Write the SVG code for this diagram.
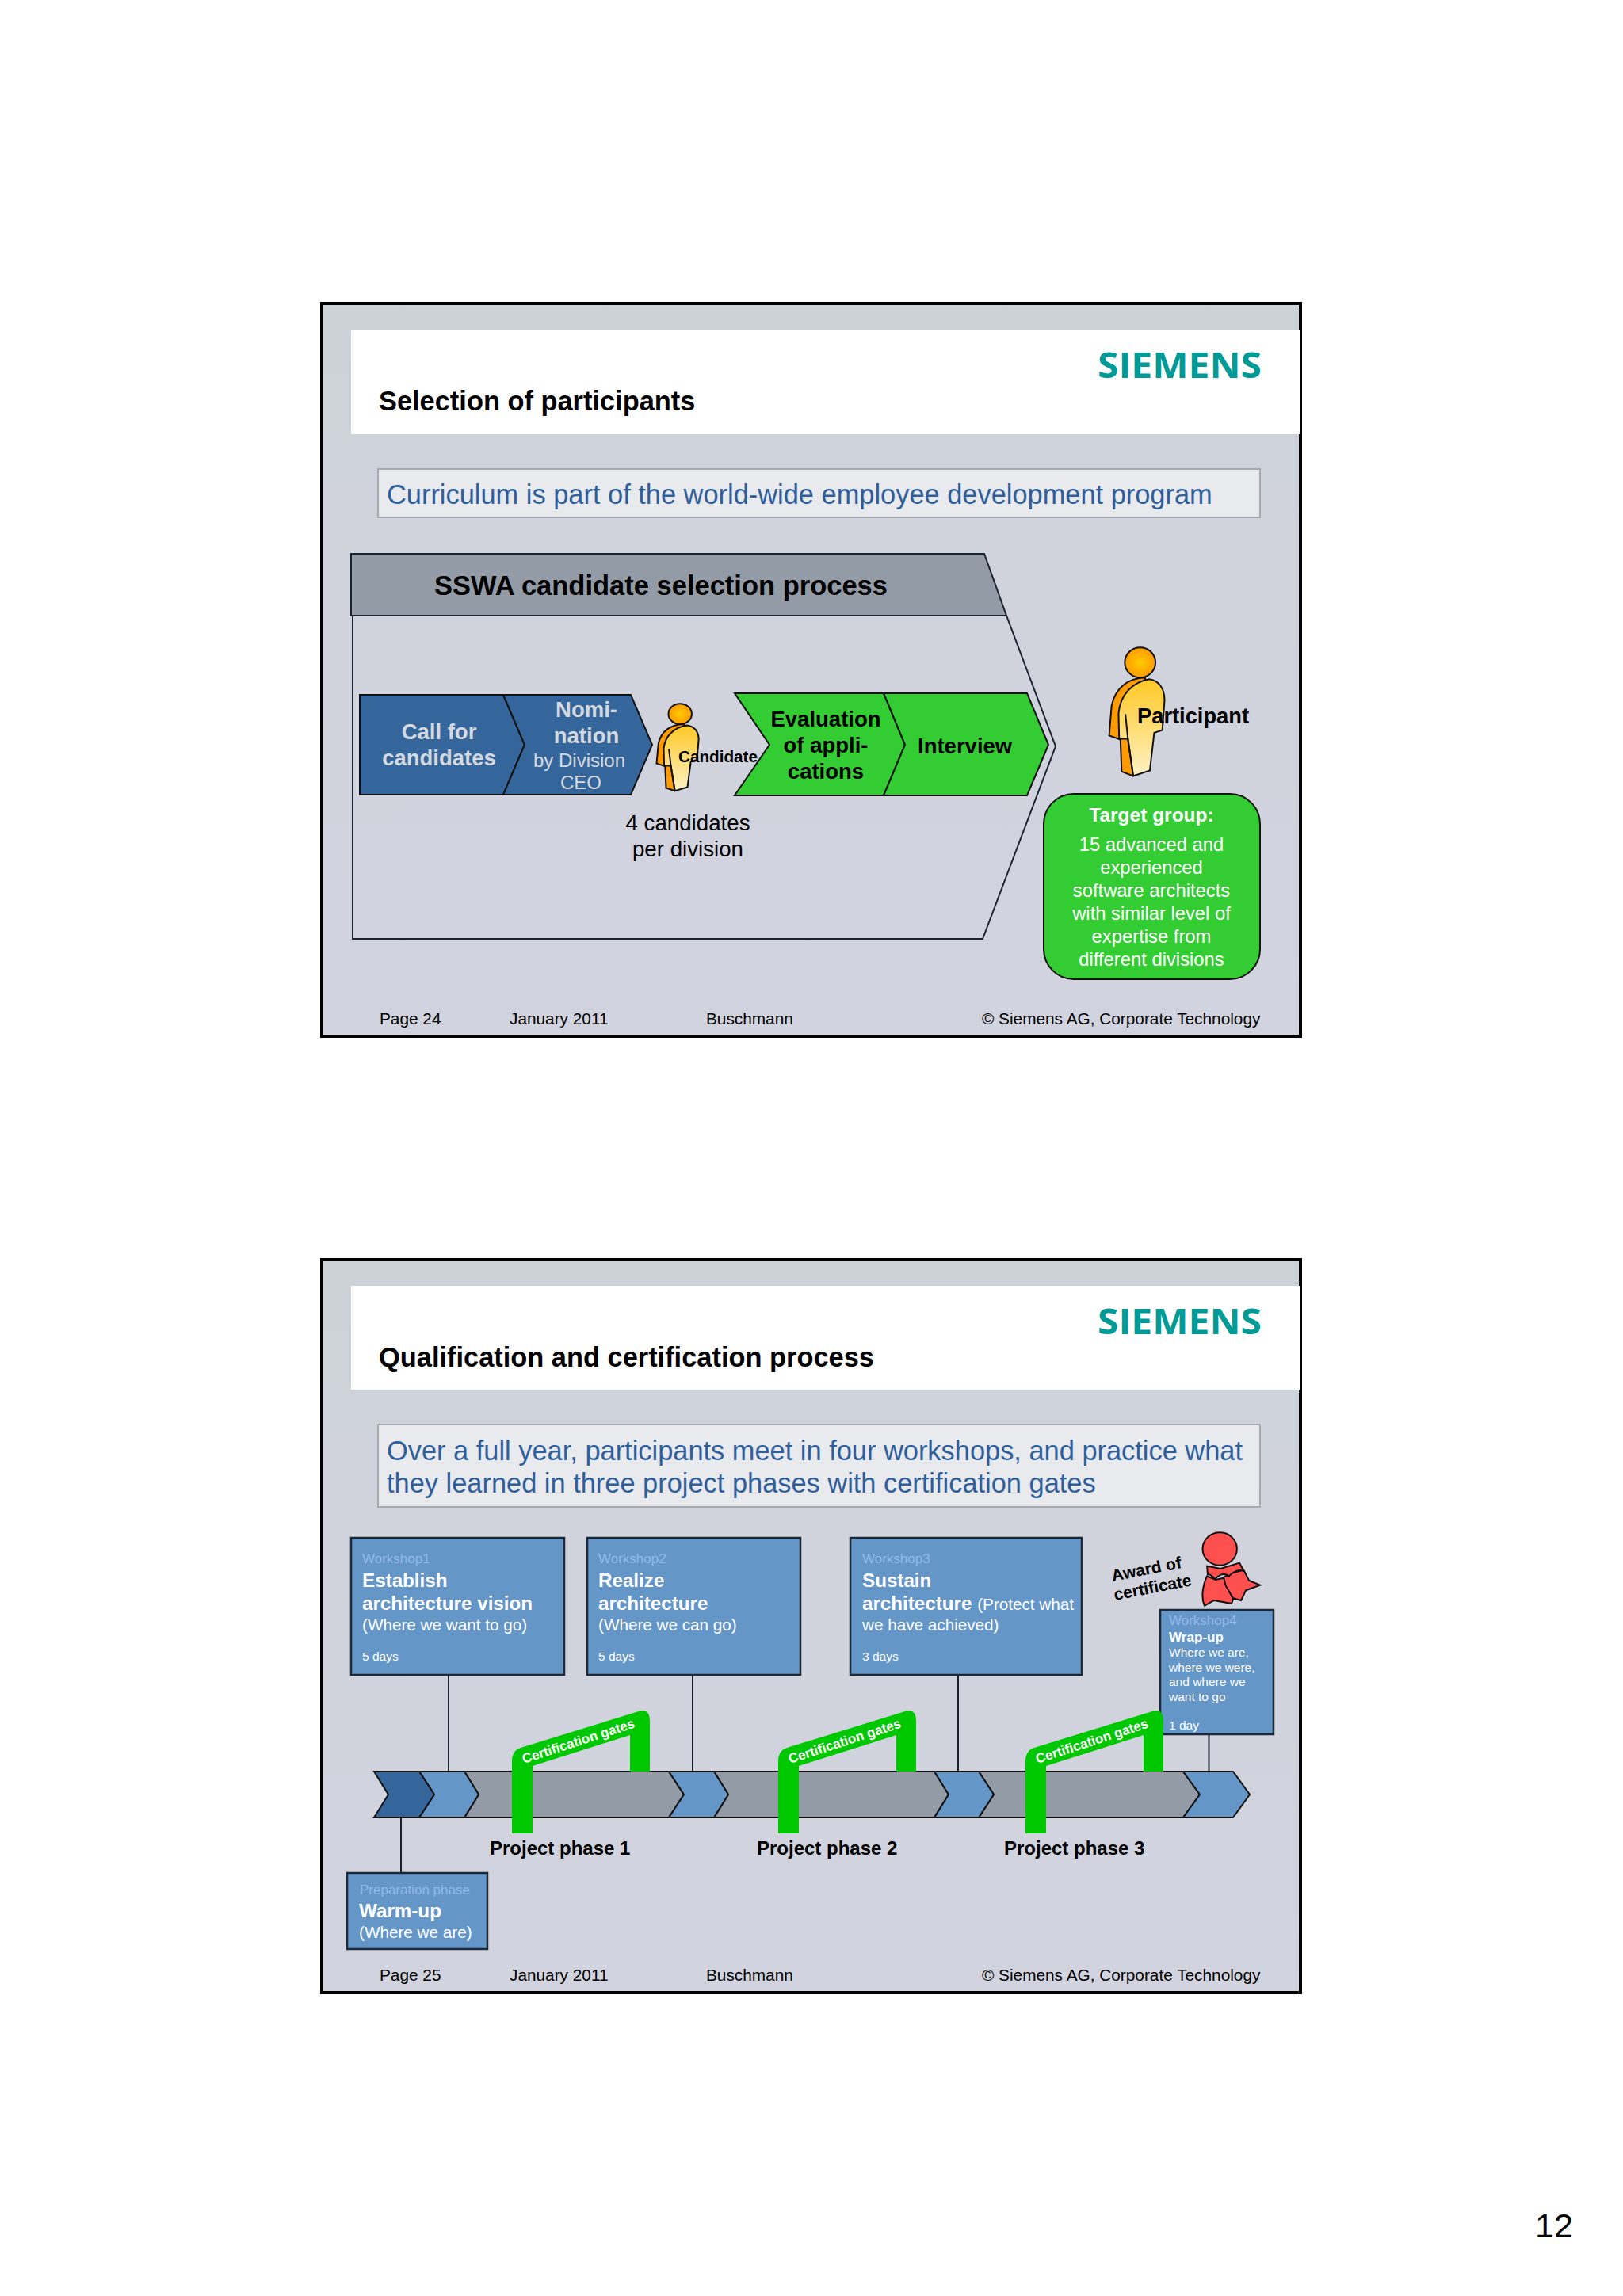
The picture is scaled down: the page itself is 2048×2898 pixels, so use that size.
<svg xmlns="http://www.w3.org/2000/svg" width="2048" height="2898" viewBox="0 0 2048 2898">
<style>
text{font-family:"Liberation Sans",Arial,sans-serif}
.b{font-weight:bold}
.m{text-anchor:middle}
.title{font-size:34.400px;font-weight:bold;fill:#000}
.sub{font-size:34.400px;fill:#2f5f9b}
.foot{font-size:20.800px;fill:#000}
.logo{font-family:"Open Sans","Liberation Sans",sans-serif;font-size:45px;font-weight:bold;fill:#009a97}
.subbox{fill:#e9eaed;stroke:#a6a9ae;stroke-width:2}
.slide{fill:url(#bg);stroke:#000;stroke-width:4}
.ln{fill:none;stroke:#1c2330;stroke-width:2}
.cb{stroke:#111;stroke-width:2}
.wk{fill:#6496c8;stroke:#1c2836;stroke-width:2.500px}
.dim{font-size:17px;fill:#92b9ea}
.hd{font-size:24.200px;font-weight:bold;fill:#fff}
.tx{font-size:20.700px;fill:#fff}
.sm{font-size:15.500px;fill:#fff}
.gate{fill:#00c800}
.gt{font-size:17px;font-weight:bold;fill:#fff}
.ph{font-size:24px;font-weight:bold;fill:#000}
.nsc{vector-effect:non-scaling-stroke;stroke:#111;stroke-width:2}
</style>
<defs>
<linearGradient id="bg" x1="0" y1="0" x2="0" y2="1"><stop offset="0" stop-color="#ccd2d7"/><stop offset=".3" stop-color="#d0d3dc"/><stop offset="1" stop-color="#d1d3de"/></linearGradient>
<radialGradient id="head"><stop offset="0" stop-color="#ffcc00"/><stop offset="1" stop-color="#ff9a00"/></radialGradient>
<linearGradient id="body" x1="0" y1="0" x2="0" y2="1"><stop offset="0" stop-color="#ffc825"/><stop offset="1" stop-color="#fff2c4"/></linearGradient>
<g id="person">
<path class="nsc" fill="#ff9a00" d="M1000 218C945 220 905 255 893 320L885 430L921 445L925 562L962 578L1000 300Z"/>
<path class="nsc" fill="url(#body)" d="M1012 224C1045 228 1062 260 1062 300L1055 410L1029 420L1015 558L962 578L945 442L917 442L915 350C920 280 960 235 1012 224Z"/>
<path class="nsc" fill="none" d="M937 352L945 442L962 578"/>
<ellipse class="nsc" fill="url(#head)" cx="984" cy="163" rx="49" ry="55"/>
</g>
</defs>
<rect width="2048" height="2898" fill="#fff"/>

<g id="slide-24">
<rect class="slide" x="406" y="383" width="1235" height="925"/>
<rect x="443" y="416" width="1197" height="132" fill="#fff"/>
<text class="logo" x="1385" y="477" textLength="207" lengthAdjust="spacingAndGlyphs">SIEMENS</text>
<text class="title" x="478" y="518">Selection of participants</text>
<rect class="subbox" x="477" y="592" width="1113" height="61"/>
<text class="sub" x="488" y="636">Curriculum is part of the world-wide employee development program</text>
</g>

<g id="process-panel">
<path d="M445 777H1270L1332 942L1240 1185H445Z" fill="none" stroke="#1c2330" stroke-width="2"/>
<path d="M443 699H1242L1270 777H443Z" fill="#939ca6" stroke="#1c2330" stroke-width="2"/>
<text x="548" y="751" font-size="34.500" class="b">SSWA candidate selection process</text>
</g>

<g id="call-for-candidates">
<path class="cb" fill="#35669b" d="M454 877H635L662 940L635 1003H454Z"/>
<text class="b m" x="554" y="933" font-size="27.500" fill="#d5d9df">Call for</text>
<text class="b m" x="554" y="966" font-size="27.500" fill="#d5d9df">candidates</text>
</g>
<g id="nomination">
<path class="cb" fill="#35669b" d="M635 877H796L823 940L796 1003H635L662 940Z"/>
<text class="b m" x="740" y="905" font-size="27.500" fill="#d5d9df">Nomi-</text>
<text class="b m" x="740" y="938" font-size="27.500" fill="#d5d9df">nation</text>
<text class="m" x="731" y="968" font-size="24" fill="#d5d9df">by Division</text>
<text class="m" x="733" y="996" font-size="24" fill="#d5d9df">CEO</text>
</g>
<g id="candidate">
<use href="#person" transform="translate(563,863) scale(.30,.234)"/>
<text class="b" x="856" y="962" font-size="20.700">Candidate</text>
<text class="m" x="868" y="1048" font-size="27.700">4 candidates</text>
<text class="m" x="868" y="1081" font-size="27.700">per division</text>
</g>
<g id="evaluation">
<path class="cb" fill="#33cc33" d="M927 875H1115L1142 940L1115 1004H927L971 940Z"/>
<text class="b m" x="1042" y="917" font-size="27.500">Evaluation</text>
<text class="b m" x="1042" y="950" font-size="27.500">of appli-</text>
<text class="b m" x="1042" y="983" font-size="27.500">cations</text>
</g>
<g id="interview">
<path class="cb" fill="#33cc33" d="M1115 875H1296L1323 940L1296 1004H1115L1142 940Z"/>
<text class="b" x="1158" y="951" font-size="27.500">Interview</text>
</g>
<g id="participant">
<use href="#person" transform="translate(1050,780) scale(.395,.345)"/>
<text class="b" x="1435" y="913" font-size="27.300">Participant</text>
</g>
<g id="target-group">
<rect x="1317" y="1002" width="273" height="234" rx="38" fill="#33cc33" stroke="#111" stroke-width="2"/>
<g class="m" font-size="23.800" fill="#fff">
<text class="b" font-size="24.500" x="1453" y="1037">Target group:</text>
<text x="1453" y="1074">15 advanced and</text>
<text x="1453" y="1103">experienced</text>
<text x="1453" y="1132">software architects</text>
<text x="1453" y="1161">with similar level of</text>
<text x="1453" y="1190">expertise from</text>
<text x="1453" y="1219">different divisions</text>
</g>
</g>
<g id="footer-24">
<text class="foot" x="479" y="1293">Page 24</text>
<text class="foot" x="643" y="1293">January 2011</text>
<text class="foot" x="891" y="1293">Buschmann</text>
<text class="foot" x="1239" y="1293">© Siemens AG, Corporate Technology</text>
</g>

<g id="slide-25">
<rect class="slide" x="406" y="1590" width="1235" height="925"/>
<rect x="443" y="1623" width="1197" height="131" fill="#fff"/>
<text class="logo" x="1385" y="1684" textLength="207" lengthAdjust="spacingAndGlyphs">SIEMENS</text>
<text class="title" x="478" y="1725">Qualification and certification process</text>
<rect class="subbox" x="477" y="1798" width="1113" height="104"/>
<text class="sub" x="488" y="1843">Over a full year, participants meet in four workshops, and practice what</text>
<text class="sub" x="488" y="1884">they learned in three project phases with certification gates</text>
</g>

<g id="connectors">
<path class="ln" d="M566 2114V2236M874 2114V2236M1209 2114V2236M1525.500 2189V2236M506 2290V2366"/>
</g>

<g id="timeline">
<path class="cb" fill="#939ba6" d="M586 2236H844L863 2265L844 2294H586L604 2265Z"/>
<path class="cb" fill="#939ba6" d="M901 2236H1179L1197 2265L1179 2294H901L919 2265Z"/>
<path class="cb" fill="#939ba6" d="M1235 2236H1493L1514 2265L1493 2294H1235L1254 2265Z"/>
<path class="cb" fill="#6496c8" d="M529 2236H586L604 2265L586 2294H529L548 2265Z"/>
<path class="cb" fill="#6496c8" d="M844 2236H901L919 2265L901 2294H844L863 2265Z"/>
<path class="cb" fill="#6496c8" d="M1179 2236H1235L1254 2265L1235 2294H1179L1197 2265Z"/>
<path class="cb" fill="#6496c8" d="M1493 2236H1556L1577 2265L1556 2294H1493L1514 2265Z"/>
<path class="cb" fill="#35669b" d="M472 2236H529L548 2265L529 2294H472L490 2265Z"/>
</g>

<g id="workshop1">
<rect class="wk" x="443" y="1941" width="269" height="173"/>
<text class="dim" x="457" y="1973">Workshop1</text>
<text class="hd" x="457" y="2003">Establish</text>
<text class="hd" x="457" y="2032">architecture vision</text>
<text class="tx" x="457" y="2058">(Where we want to go)</text>
<text class="sm" x="457" y="2096">5 days</text>
</g>
<g id="workshop2">
<rect class="wk" x="741" y="1941" width="269" height="173"/>
<text class="dim" x="755" y="1973">Workshop2</text>
<text class="hd" x="755" y="2003">Realize</text>
<text class="hd" x="755" y="2032">architecture</text>
<text class="tx" x="755" y="2058">(Where we can go)</text>
<text class="sm" x="755" y="2096">5 days</text>
</g>
<g id="workshop3">
<rect class="wk" x="1073" y="1941" width="292" height="173"/>
<text class="dim" x="1088" y="1973">Workshop3</text>
<text class="hd" x="1088" y="2003">Sustain</text>
<text class="hd" x="1088" y="2032">architecture <tspan class="tx" font-weight="normal">(Protect what</tspan></text>
<text class="tx" x="1088" y="2058">we have achieved)</text>
<text class="sm" x="1088" y="2096">3 days</text>
</g>
<g id="workshop4">
<rect class="wk" x="1464" y="2032" width="143" height="157"/>
<text class="dim" x="1475" y="2051">Workshop4</text>
<text class="b" x="1475" y="2072" font-size="17.100" fill="#fff">Wrap-up</text>
<text x="1475" y="2091" font-size="15.500" fill="#fff">Where we are,</text>
<text x="1475" y="2110" font-size="15.500" fill="#fff">where we were,</text>
<text x="1475" y="2128" font-size="15.500" fill="#fff">and where we</text>
<text x="1475" y="2147" font-size="15.500" fill="#fff">want to go</text>
<text class="sm" x="1475" y="2183">1 day</text>
</g>
<g id="warm-up">
<rect class="wk" x="438" y="2364" width="177" height="96"/>
<text class="dim" x="454" y="2391">Preparation phase</text>
<text class="hd" x="453" y="2420">Warm-up</text>
<text class="tx" x="453" y="2446">(Where we are)</text>
</g>

<g id="gate1">
<path class="gate" d="M646 2314V2222Q646 2210 657 2206L806 2160Q820 2156 820 2172V2236H795V2190L672 2229V2314Z"/>
<text class="gt" transform="translate(661 2226) rotate(-18)">Certification gates</text>
</g>
<g id="gate2">
<path class="gate" transform="translate(336 0)" d="M646 2314V2222Q646 2210 657 2206L806 2160Q820 2156 820 2172V2236H795V2190L672 2229V2314Z"/>
<text class="gt" transform="translate(997 2226) rotate(-18)">Certification gates</text>
</g>
<g id="gate3">
<path class="gate" transform="translate(648 0)" d="M646 2314V2222Q646 2210 657 2206L806 2160Q820 2156 820 2172V2236H795V2190L672 2229V2314Z"/>
<text class="gt" transform="translate(1309 2226) rotate(-18)">Certification gates</text>
</g>
<g id="phases">
<text class="ph" x="618" y="2341">Project phase 1</text>
<text class="ph" x="955" y="2341">Project phase 2</text>
<text class="ph" x="1267" y="2341">Project phase 3</text>
</g>

<g id="award">
<text class="b" transform="translate(1404 1996) rotate(-11)" font-size="21">Award of</text>
<text class="b" transform="translate(1407 2020) rotate(-11)" font-size="21">certificate</text>
<g transform="translate(1040,1930) scale(.4016,.3333)">
<ellipse class="nsc" fill="#ff5050" cx="1243" cy="75" rx="54" ry="62"/>
<path class="nsc" fill="#ff5050" d="M1203 178C1190 210 1183 260 1195 290L1225 270L1280 282L1285 265L1265 215L1255 185L1230 192Z"/>
<path class="nsc" fill="#ff5050" d="M1255 182L1285 165L1318 155L1335 195L1370 212L1325 232L1310 270L1285 262L1262 215Z"/>
<path class="nsc" fill="#ff5050" d="M1203 140L1245 150L1305 128L1318 158Q1295 150 1272 178Q1250 160 1228 190Q1215 170 1205 172Z"/>
</g>
</g>

<g id="footer-25">
<text class="foot" x="479" y="2500">Page 25</text>
<text class="foot" x="643" y="2500">January 2011</text>
<text class="foot" x="891" y="2500">Buschmann</text>
<text class="foot" x="1239" y="2500">© Siemens AG, Corporate Technology</text>
</g>
<text id="page-number" x="1937" y="2824" font-size="43">12</text>
</svg>
